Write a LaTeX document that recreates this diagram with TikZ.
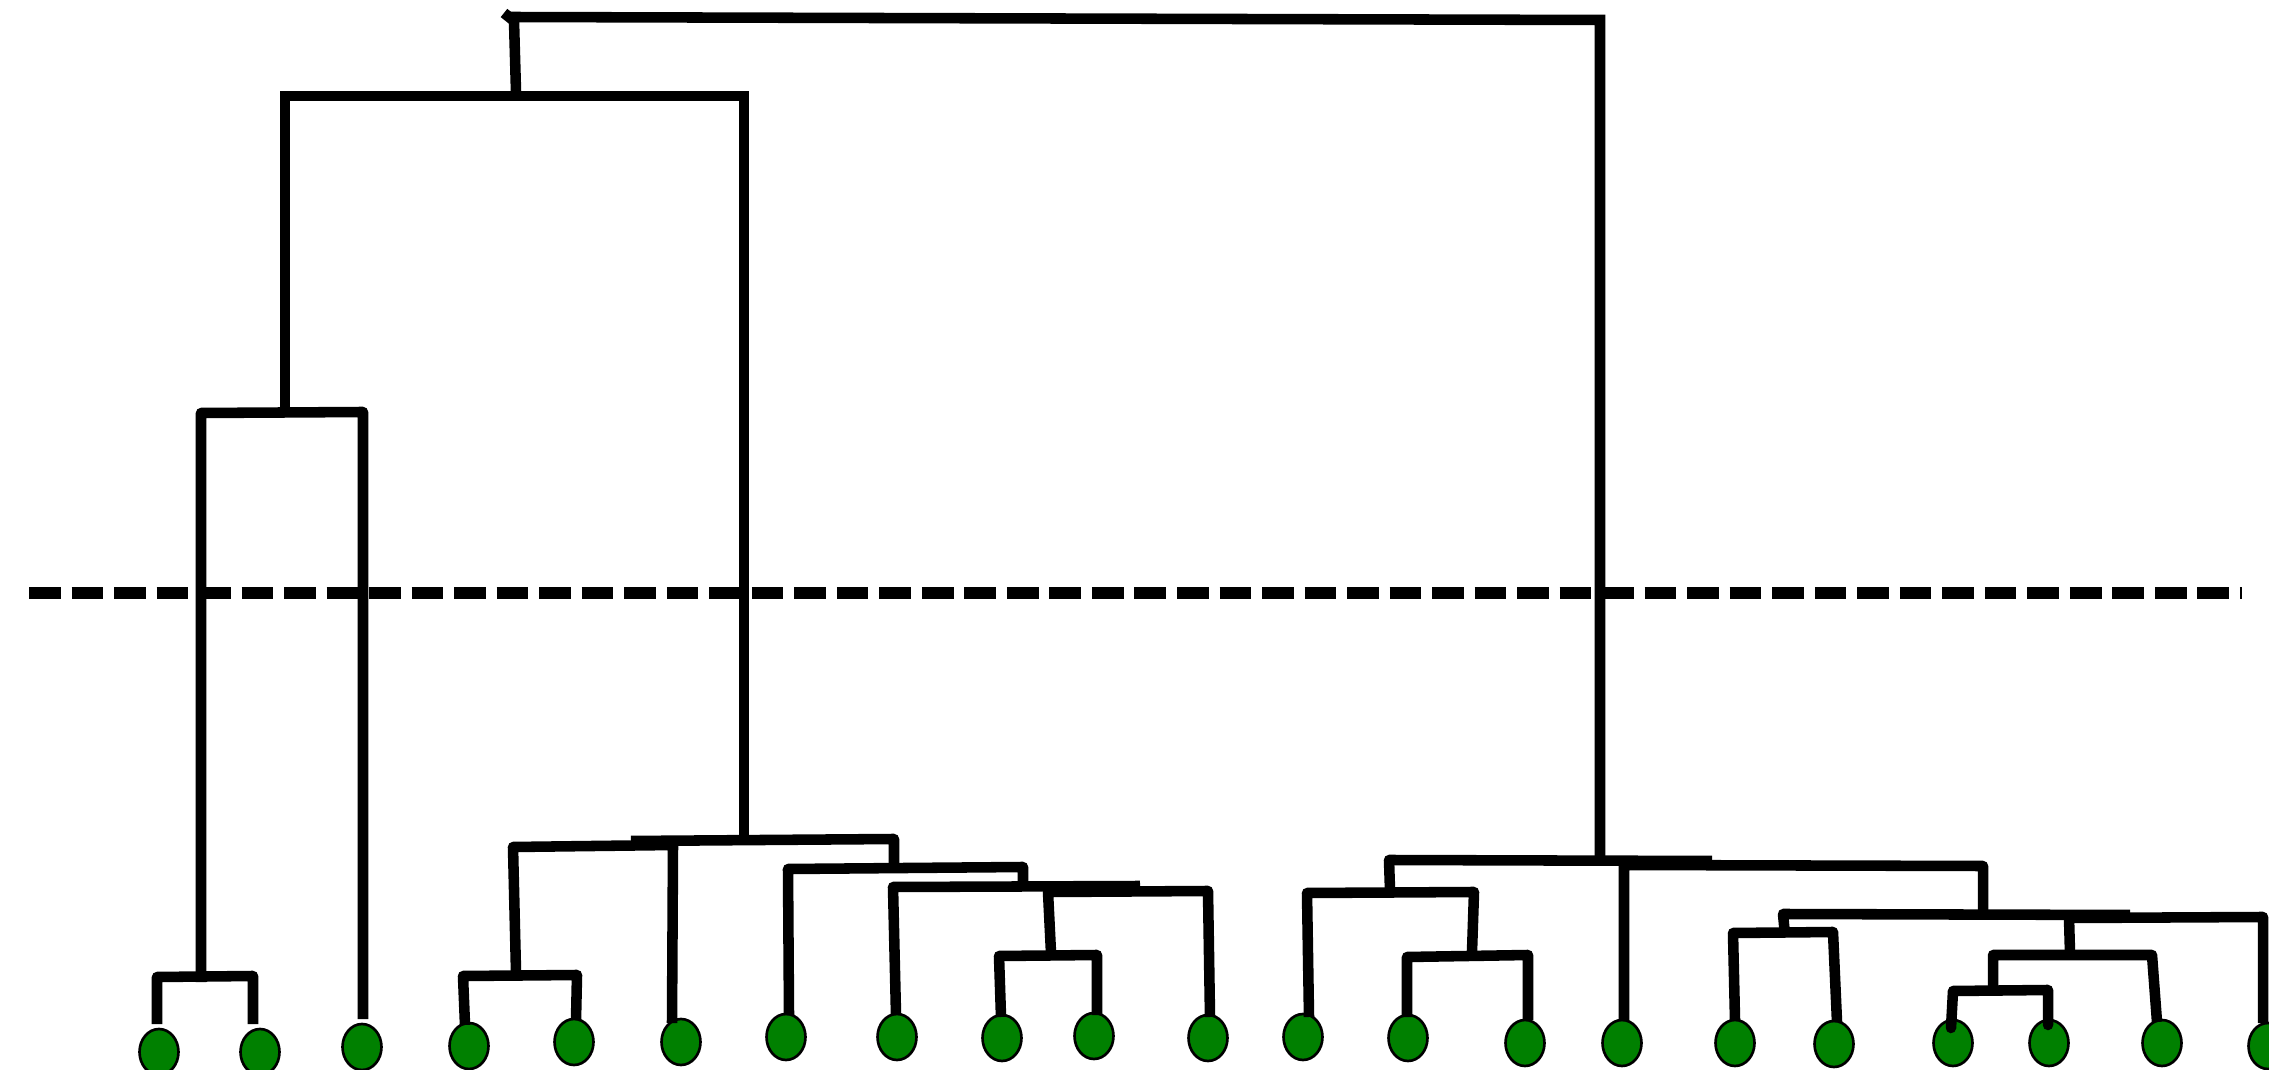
\documentclass[tikz,border=0pt]{standalone}
\usetikzlibrary{shapes.geometric}
\definecolor{leafgreen}{RGB}{0,128,0}
\begin{document}
\begin{tikzpicture}[x=0.02cm,y=-0.02cm,
  leaf/.style={ellipse,draw=black,line width=1.5pt,fill=leafgreen,
    minimum width=0.78cm,minimum height=0.92cm,inner sep=0pt},
  branch/.style={line width=6pt,line join=round,line cap=butt},
  cutline/.style={line width=6.8pt,dash pattern=on 18pt off 6.2pt}]
\useasboundingbox (0,0) rectangle (2269,1070);

% leaves
\node[leaf] (l1)  at (159,1052) {};
\node[leaf] (l2)  at (260,1052) {};
\node[leaf] (l3)  at (362,1047) {};
\node[leaf] (l4)  at (469,1046) {};
\node[leaf] (l5)  at (574,1042) {};
\node[leaf] (l6)  at (681,1042) {};
\node[leaf] (l7)  at (786,1037) {};
\node[leaf] (l8)  at (897,1037) {};
\node[leaf] (l9)  at (1002,1038) {};
\node[leaf] (l10) at (1094,1036) {};
\node[leaf] (l11) at (1208,1038) {};
\node[leaf] (l12) at (1303,1037) {};
\node[leaf] (l13) at (1408,1038) {};
\node[leaf] (l14) at (1525,1043) {};
\node[leaf] (l15) at (1622,1043) {};
\node[leaf] (l16) at (1735,1043) {};
\node[leaf] (l17) at (1834,1044) {};
\node[leaf] (l18) at (1953,1043) {};
\node[leaf] (l19) at (2049,1043) {};
\node[leaf] (l20) at (2162,1043) {};
\node[leaf] (l21) at (2268,1046) {};

% cut level
\draw[cutline] (29,593) -- (2242,593);

% root and its two children
\draw[branch] (504,13) -- (514,21) -- (516,92);
\draw[branch,line join=miter] (510,17) -- (1600,20) -- (1600,856);
\draw[branch,line join=miter] (285,410) -- (285,96) -- (744,96) -- (744,836);

% left group
\draw[branch] (201,982) -- (201,413) -- (363,412) -- (363,1019);
\draw[branch] (157,1024) -- (157,977) -- (253,976) -- (253,1024);

% middle group
\draw[branch] (516,972) -- (513,847) -- (673,845) -- (672,1023);
\draw[branch] (465,1025) -- (463,976) -- (577,975) -- (576,1020);
\draw[branch] (631,841) -- (894,839) -- (894,866);
\draw[branch] (789,1015) -- (788,869) -- (1023,867) -- (1023,884);
\draw[branch] (896,1015) -- (893,887) -- (1140,886);
\draw[branch] (1132,886) -- (1132,893);
\draw[branch] (1051,953) -- (1048,892) -- (1208,891) -- (1210,1017);
\draw[branch] (1001,1017) -- (999,956) -- (1097,955) -- (1097,1015);

% right group
\draw[branch] (1390,890) -- (1389,860) -- (1712,861);
\draw[branch] (1309,1017) -- (1307,893) -- (1474,892) -- (1472,952);
\draw[branch] (1407,1017) -- (1407,957) -- (1528,955) -- (1528,1020);
\draw[branch] (1624,1021) -- (1624,865) -- (1983,866) -- (1983,912);
\draw[branch] (1785,935) -- (1783,914) -- (2130,915);
\draw[branch] (2070,953) -- (2069,918) -- (2263,917) -- (2263,1023);
\draw[branch] (1735,1020) -- (1733,933) -- (1833,932) -- (1837,1022);
\draw[branch] (1993,988) -- (1993,955) -- (2152,955) -- (2157,1022);
\draw[branch,line cap=round] (1951,1028) -- (1953,991) -- (2048,990) -- (2048,1025);
\end{tikzpicture}
\end{document}
